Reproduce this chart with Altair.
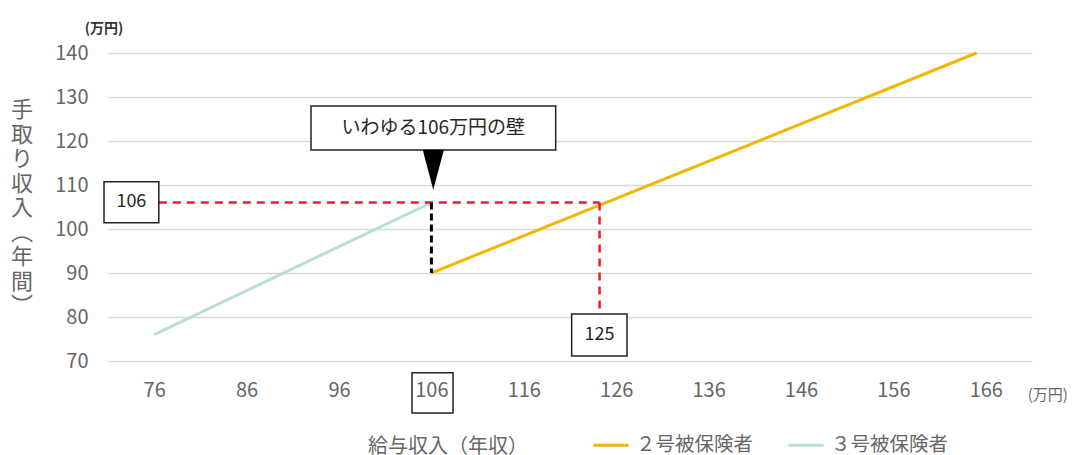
import altair as alt
import pandas as pd

FONT = "Noto Sans CJK JP"
ORANGE = "#F2B705"
TEAL = "#B9DEDA"
RED = "#E5202E"
GRAY = "#666666"
DARK = "#262626"

# ---- data ----
x_ticks = [76, 86, 96, 106, 116, 126, 136, 146, 156, 166]
y_ticks = [70, 80, 90, 100, 110, 120, 130, 140]
series_names = ["２号被保険者", "３号被保険者"]
s2_x = [106, 165]
s2_y = [90, 140]
s3_x = [76, 106]
s3_y = [76, 106]

red_h_x = [76.5, 124.2]
red_h_y = [106]
red_v_x = [124.2]
red_v_y = [106, 80.7]
wall_x = [106]
wall_y = [106, 90]

box_labels = ["106", "125", "いわゆる106万円の壁"]
box_x = [70.57, 121.18, 92.97]
box_x2 = [76.5, 127.17, 119.45]
box_y = [110.75, 80.68, 127.95]
box_y2 = [101.4, 71.14, 117.95]
box_tx = [73.53, 124.2, 106.2]
box_ty = [106.1, 75.9, 122.95]

tick_box = {"x": [103.9], "x2": [108.34], "y": [67.34], "y2": [58.18]}

tri_x = [105.06, 106.2, 107.36]
tri_y = [118, 118, 118]
tri_y2 = [118, 108.9, 118]

# ---- scales/axes ----
x_scale = alt.Scale(domain=[71, 171], nice=False, zero=False)
y_scale = alt.Scale(domain=[70, 140], nice=False, zero=False)
x_axis = alt.Axis(values=x_ticks, grid=False, domain=False, ticks=False,
                  labelFontSize=20, labelColor=GRAY, labelPadding=19, title=None,
                  labelFont=FONT)
y_axis = alt.Axis(values=y_ticks, grid=True, gridColor="#D9D9D9", gridWidth=1.5,
                  domain=False, ticks=False, labelFontSize=20, labelColor=GRAY,
                  labelPadding=20, title=None, labelFont=FONT)


def X(f="x"):
    return alt.X(f"{f}:Q", scale=x_scale, axis=x_axis)


def Y(f="y"):
    return alt.Y(f"{f}:Q", scale=y_scale, axis=y_axis)


lines_df = pd.DataFrame({
    "x": s2_x + s3_x,
    "y": s2_y + s3_y,
    "series": [series_names[0]] * len(s2_x) + [series_names[1]] * len(s3_x),
})

lines = alt.Chart(lines_df).mark_line(strokeWidth=3).encode(
    x=X(), y=Y(),
    color=alt.Color("series:N",
                    scale=alt.Scale(domain=series_names, range=[ORANGE, TEAL]),
                    legend=alt.Legend(orient="none", legendX=484, legendY=373,
                                      direction="horizontal", title=None,
                                      symbolType="stroke", symbolSize=1225,
                                      symbolStrokeWidth=3, labelFontSize=19.5,
                                      labelColor=GRAY, labelFont=FONT,
                                      labelOffset=6, columnPadding=28, padding=0)),
)

red_h = alt.Chart(pd.DataFrame({"x": [red_h_x[0]], "x2": [red_h_x[1]], "y": red_h_y})).mark_rule(
    color=RED, strokeWidth=2.5, strokeDash=[8, 6]).encode(x=X(), x2="x2:Q", y=Y())
red_v = alt.Chart(pd.DataFrame({"x": red_v_x, "y": [red_v_y[0]], "y2": [red_v_y[1]]})).mark_rule(
    color=RED, strokeWidth=2.5, strokeDash=[8, 6]).encode(x=X(), y=Y(), y2="y2:Q")
wall = alt.Chart(pd.DataFrame({"x": wall_x, "y": [wall_y[0]], "y2": [wall_y[1]]})).mark_rule(
    color="black", strokeWidth=3, strokeDash=[7, 4]).encode(x=X(), y=Y(), y2="y2:Q")

boxes_df = pd.DataFrame({"x": box_x, "x2": box_x2, "y": box_y, "y2": box_y2,
                         "tx": box_tx, "ty": box_ty, "label": box_labels,
                         "size": [18, 18, 19]})
boxes = alt.Chart(boxes_df).mark_rect(fill="white", stroke="#222222", strokeWidth=1.5).encode(
    x=X(), x2="x2:Q", y=Y(), y2="y2:Q")
box_text = alt.Chart(boxes_df).mark_text(color=DARK, baseline="middle", align="center").encode(
    x=X("tx"), y=Y("ty"), text="label:N",
    size=alt.Size("size:Q", scale=None, legend=None))

tbox = alt.Chart(pd.DataFrame(tick_box)).mark_rect(fillOpacity=0, stroke="#222222", strokeWidth=1.5).encode(
    x=X(), x2="x2:Q", y=Y(), y2="y2:Q")

tri = alt.Chart(pd.DataFrame({"x": tri_x, "y": tri_y, "y2": tri_y2})).mark_area(
    color="black", orient="vertical").encode(x=X(), y=Y(), y2="y2:Q")

texts_df = pd.DataFrame({
    "x": [172.7, 107.8, 61.7],
    "y": [62.3, 50.4, 127.0],
    "t": ["(万円)", "給与収入（年収）", "手\n取\nり\n収\n入\n︵\n年\n間\n︶"],
    "size": [15, 20, 22],
})
texts = alt.Chart(texts_df).mark_text(baseline="middle", align="center", lineBreak="\n",
                                      lineHeight=24.5, color=GRAY).encode(
    x=X(), y=Y(), text="t:N",
    size=alt.Size("size:Q", scale=None, legend=None))

yunit = alt.Chart(pd.DataFrame({"x": [70.57], "y": [145.5], "t": ["(万円)"]})).mark_text(
    baseline="middle", align="center", fontSize=14, fontWeight="bold", color="#333333").encode(
    x=X(), y=Y(), text="t:N")

chart = alt.layer(lines, red_h, red_v, wall, boxes, box_text, tbox, tri, texts, yunit).resolve_scale(
    color="independent", size="independent"
).properties(
    width=924, height=308,
    autosize=alt.AutoSizeParams(type="none"),
    padding={"left": 108, "top": 53, "right": 49, "bottom": 94},
).configure(font=FONT).configure_view(stroke="transparent")

chart.save("out.html", embed_options={"renderer": "svg", "actions": False})
